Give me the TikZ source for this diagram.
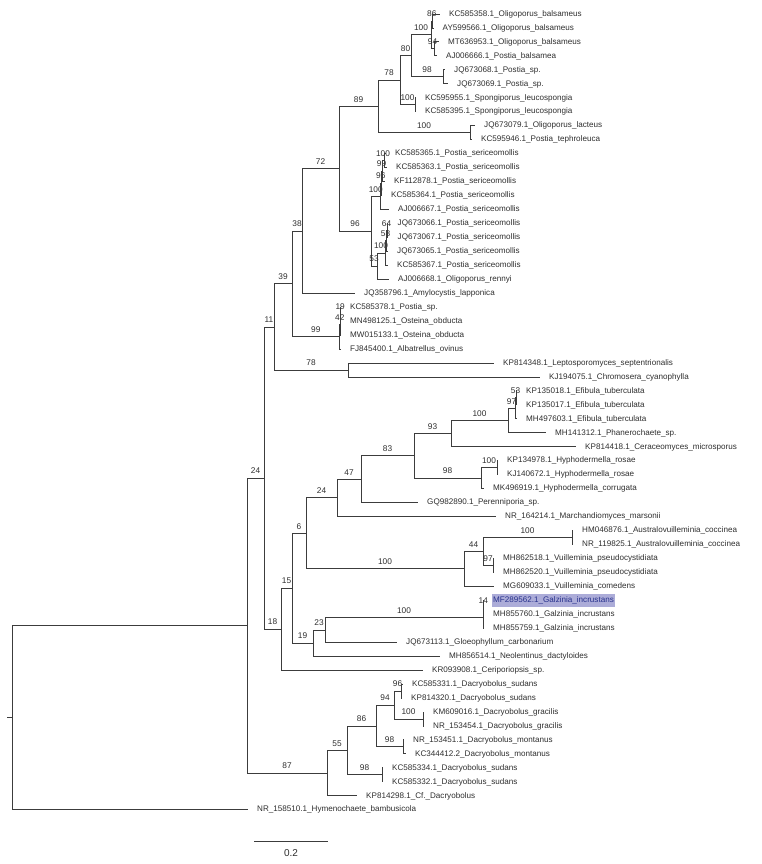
\documentclass[tikz,border=0pt]{standalone}
\usepackage{fontspec}
\setmainfont{Liberation Sans}
\usetikzlibrary{calc}
\definecolor{lc}{HTML}{3C3C3C}
\definecolor{tc}{HTML}{2E2E2E}
\definecolor{hlc}{RGB}{172,172,216}
\definecolor{hltc}{RGB}{40,50,140}
\tikzset{
  br/.style={draw=lc, line width=0.9pt},
  bs/.style={font=\fontsize{8.3}{9}\selectfont, text=tc, anchor=south, inner sep=0pt, yshift=3.8pt},
  tl/.style={font=\fontsize{8.1}{9}\selectfont, text=tc, anchor=west, inner xsep=0pt, inner ysep=0pt, xshift=9.5pt, text height=6pt, text depth=1.5pt},
  hl/.style={fill=hlc, text=hltc, inner xsep=1.5pt, inner ysep=2.5pt, xshift=-1.5pt},
  sbl/.style={font=\fontsize{10}{12}\selectfont, text=tc}
}
\newcommand\tip[3]{\coordinate (t#1) at (#2,{ty(#1)}); \node[tl] (l#1) at (t#1) {#3};}
\newcommand\inode[4]{\path (#3) -- (#4) coordinate[midway] (#1m); \coordinate (#1) at (#2,0 |- #1m);}
\newcommand\BR[3]{\draw[br] (#1) |- node[bs,pos=0.75]{#3} (#2);}
\newcommand\BT[2]{\draw[br] (#1) |- (#2);}
\begin{document}
\begin{tikzpicture}[x=1pt,y=-1pt, declare function={ty(\i)=14+13.96*(\i-1);}]
\useasboundingbox (0,0) rectangle (762,864);
% tips
\tip{1}{439.5}{KC585358.1\_Oligoporus\_balsameus}
\tip{2}{433}{AY599566.1\_Oligoporus\_balsameus}
\tip{3}{438.5}{MT636953.1\_Oligoporus\_balsameus}
\tip{4}{436.5}{AJ006666.1\_Postia\_balsamea}
\tip{5}{444.5}{JQ673068.1\_Postia\_sp.}
\tip{6}{447.5}{JQ673069.1\_Postia\_sp.}
\tip{7}{415.5}{KC595955.1\_Spongiporus\_leucospongia}
\tip{8}{415.5}{KC585395.1\_Spongiporus\_leucospongia}
\tip{9}{474.5}{JQ673079.1\_Oligoporus\_lacteus}
\tip{10}{471.5}{KC595946.1\_Postia\_tephroleuca}
\tip{11}{385.5}{KC585365.1\_Postia\_sericeomollis}
\tip{12}{386.5}{KC585363.1\_Postia\_sericeomollis}
\tip{13}{384.5}{KF112878.1\_Postia\_sericeomollis}
\tip{14}{381.5}{KC585364.1\_Postia\_sericeomollis}
\tip{15}{388.5}{AJ006667.1\_Postia\_sericeomollis}
\tip{16}{388}{JQ673066.1\_Postia\_sericeomollis}
\tip{17}{388}{JQ673067.1\_Postia\_sericeomollis}
\tip{18}{387.5}{JQ673065.1\_Postia\_sericeomollis}
\tip{19}{387.5}{KC585367.1\_Postia\_sericeomollis}
\tip{20}{388.5}{AJ006668.1\_Oligoporus\_rennyi}
\tip{21}{354.5}{JQ358796.1\_Amylocystis\_lapponica}
\tip{22}{340.5}{KC585378.1\_Postia\_sp.}
\tip{23}{340.5}{MN498125.1\_Osteina\_obducta}
\tip{24}{340.5}{MW015133.1\_Osteina\_obducta}
\tip{25}{340.5}{FJ845400.1\_Albatrellus\_ovinus}
\tip{26}{493.5}{KP814348.1\_Leptosporomyces\_septentrionalis}
\tip{27}{539.5}{KJ194075.1\_Chromosera\_cyanophylla}
\tip{28}{516.5}{KP135018.1\_Efibula\_tuberculata}
\tip{29}{516.5}{KP135017.1\_Efibula\_tuberculata}
\tip{30}{516.5}{MH497603.1\_Efibula\_tuberculata}
\tip{31}{545.5}{MH141312.1\_Phanerochaete\_sp.}
\tip{32}{575.5}{KP814418.1\_Ceraceomyces\_microsporus}
\tip{33}{497.5}{KP134978.1\_Hyphodermella\_rosae}
\tip{34}{497.5}{KJ140672.1\_Hyphodermella\_rosae}
\tip{35}{483.5}{MK496919.1\_Hyphodermella\_corrugata}
\tip{36}{417.5}{GQ982890.1\_Perenniporia\_sp.}
\tip{37}{495.5}{NR\_164214.1\_Marchandiomyces\_marsonii}
\tip{38}{572.5}{HM046876.1\_Australovuilleminia\_coccinea}
\tip{39}{572.5}{NR\_119825.1\_Australovuilleminia\_coccinea}
\tip{40}{493.5}{MH862518.1\_Vuilleminia\_pseudocystidiata}
\tip{41}{493.5}{MH862520.1\_Vuilleminia\_pseudocystidiata}
\tip{42}{493.5}{MG609033.1\_Vuilleminia\_comedens}
\coordinate (t43) at (483.5,{ty(43)});
\node[tl,hl] (l43) at (t43) {MF289562.1\_Galzinia\_incrustans};
\tip{44}{483.5}{MH855760.1\_Galzinia\_incrustans}
\tip{45}{483.5}{MH855759.1\_Galzinia\_incrustans}
\tip{46}{396.5}{JQ673113.1\_Gloeophyllum\_carbonarium}
\tip{47}{439.5}{MH856514.1\_Neolentinus\_dactyloides}
\tip{48}{422.5}{KR093908.1\_Ceriporiopsis\_sp.}
\tip{49}{402.5}{KC585331.1\_Dacryobolus\_sudans}
\tip{50}{401.5}{KP814320.1\_Dacryobolus\_sudans}
\tip{51}{423.5}{KM609016.1\_Dacryobolus\_gracilis}
\tip{52}{423.5}{NR\_153454.1\_Dacryobolus\_gracilis}
\tip{53}{403.5}{NR\_153451.1\_Dacryobolus\_montanus}
\tip{54}{405.5}{KC344412.2\_Dacryobolus\_montanus}
\tip{55}{382.5}{KC585334.1\_Dacryobolus\_sudans}
\tip{56}{382.5}{KC585332.1\_Dacryobolus\_sudans}
\tip{57}{356.5}{KP814298.1\_Cf.\_Dacryobolus}
\tip{58}{247.5}{NR\_158510.1\_Hymenochaete\_bambusicola}
% internal nodes
\inode{aA}{432.5}{t1}{t2}
\inode{aB}{434}{t3}{t4}
\inode{aC}{431}{aA}{aB}
\inode{aD}{443}{t5}{t6}
\inode{aE}{411}{aC}{aD}
\inode{aF}{415}{t7}{t8}
\inode{aG}{400}{aE}{aF}
\inode{aH}{470}{t9}{t10}
\inode{aI}{378}{aG}{aH}
\inode{bA}{384}{t11}{t12}
\inode{bB}{382}{bA}{t13}
\inode{bC}{381}{bB}{t14}
\inode{bD}{380.5}{bC}{t15}
\inode{bE}{387}{t16}{t17}
\inode{bF}{386}{bE}{t18}
\inode{bG}{385}{bF}{t19}
\inode{bH}{377}{bG}{t20}
\inode{bI}{371}{bD}{bH}
\inode{cA}{339}{aI}{bI}
\inode{cB}{302}{cA}{t21}
\inode{cC}{340.3}{t22}{t23}
\inode{cD}{340}{cC}{t24}
\inode{cE}{339.5}{cD}{t25}
\inode{cF}{292}{cB}{cE}
\inode{cG}{348}{t26}{t27}
\inode{cH}{274}{cF}{cG}
\inode{dA}{516}{t28}{t29}
\inode{dB}{515}{dA}{t30}
\inode{dC}{508}{dB}{t31}
\inode{dD}{451}{dC}{t32}
\inode{dE}{497}{t33}{t34}
\inode{dF}{481}{dE}{t35}
\inode{dG}{414}{dD}{dF}
\inode{dH}{361}{dG}{t36}
\inode{dI}{337}{dH}{t37}
\inode{eA}{572}{t38}{t39}
\inode{eB}{493}{t40}{t41}
\inode{eC}{483}{eA}{eB}
\inode{eD}{464}{eC}{t42}
\inode{eE}{306}{dI}{eD}
\inode{fA}{483.5}{t43}{t44}
\inode{fB}{483}{fA}{t45}
\inode{fC}{325}{fB}{t46}
\inode{fD}{313}{fC}{t47}
\inode{fE}{292}{eE}{fD}
\inode{fF}{281}{fE}{t48}
\inode{fG}{264}{cH}{fF}
\inode{gA}{401}{t49}{t50}
\inode{gB}{423}{t51}{t52}
\inode{gC}{394}{gA}{gB}
\inode{gD}{403}{t53}{t54}
\inode{gE}{376}{gC}{gD}
\inode{gF}{382}{t55}{t56}
\inode{gG}{347}{gE}{gF}
\inode{gH}{327}{gG}{t57}
\inode{hA}{247}{fG}{gH}
\inode{root}{12}{hA}{t58}
\coordinate (stub) at (7,0 |- root);
% labelled branches
\BR{aC}{aA}{86} \BR{aC}{aB}{94} \BR{aE}{aC}{100} \BR{aE}{aD}{98}
\BR{aG}{aE}{80} \BR{aG}{aF}{100} \BR{aI}{aG}{78} \BR{aI}{aH}{100}
\BR{cA}{aI}{89} \BR{cA}{bI}{96}
\BR{bI}{bD}{100} \BR{bD}{bC}{96} \BR{bC}{bB}{99} \BR{bB}{bA}{100}
\BR{bI}{bH}{53} \BR{bH}{bG}{100} \BR{bG}{bF}{58} \BR{bF}{bE}{64}
\BR{cB}{cA}{72} \BR{cF}{cB}{38} \BR{cF}{cE}{99} \BR{cE}{cD}{42} \BR{cD}{cC}{19}
\BR{cH}{cF}{39} \BR{cH}{cG}{78} \BR{fG}{cH}{11} \BR{fG}{fF}{18}
\BR{fF}{fE}{15} \BR{fE}{eE}{6} \BR{fE}{fD}{19}
\BR{eE}{dI}{24} \BR{eE}{eD}{100} \BR{dI}{dH}{47} \BR{dH}{dG}{83}
\BR{dG}{dD}{93} \BR{dG}{dF}{98} \BR{dD}{dC}{100} \BR{dC}{dB}{97} \BR{dB}{dA}{53}
\BR{dF}{dE}{100}
\BR{eD}{eC}{44} \BR{eC}{eA}{100} \BR{eC}{eB}{97}
\BR{fD}{fC}{23} \BR{fC}{fB}{100} \BR{fB}{fA}{14}
\BR{hA}{fG}{24} \BR{hA}{gH}{87} \BR{gH}{gG}{55} \BR{gG}{gE}{86} \BR{gG}{gF}{98}
\BR{gE}{gC}{94} \BR{gE}{gD}{98} \BR{gC}{gA}{96} \BR{gC}{gB}{100}
\BT{root}{hA}
\draw[br] (stub) -- (root);
% tip branches
\BT{aA}{t1} \BT{aA}{t2} \BT{aB}{t3} \BT{aB}{t4} \BT{aD}{t5} \BT{aD}{t6}
\BT{aF}{t7} \BT{aF}{t8} \BT{aH}{t9} \BT{aH}{t10}
\BT{bA}{t11} \BT{bA}{t12} \BT{bB}{t13} \BT{bC}{t14} \BT{bD}{t15}
\BT{bE}{t16} \BT{bE}{t17} \BT{bF}{t18} \BT{bG}{t19} \BT{bH}{t20}
\BT{cB}{t21} \BT{cC}{t22} \BT{cC}{t23} \BT{cD}{t24} \BT{cE}{t25}
\BT{cG}{t26} \BT{cG}{t27}
\BT{dA}{t28} \BT{dA}{t29} \BT{dB}{t30} \BT{dC}{t31} \BT{dD}{t32}
\BT{dE}{t33} \BT{dE}{t34} \BT{dF}{t35} \BT{dH}{t36} \BT{dI}{t37}
\BT{eA}{t38} \BT{eA}{t39} \BT{eB}{t40} \BT{eB}{t41} \BT{eD}{t42}
\BT{fA}{t43} \BT{fA}{t44} \BT{fB}{t45} \BT{fC}{t46} \BT{fD}{t47} \BT{fF}{t48}
\BT{gA}{t49} \BT{gA}{t50} \BT{gB}{t51} \BT{gB}{t52} \BT{gD}{t53} \BT{gD}{t54}
\BT{gF}{t55} \BT{gF}{t56} \BT{gH}{t57} \BT{root}{t58}
% scale bar
\coordinate (sbA) at (254,841);
\coordinate (sbB) at (328,841);
\draw[br] (sbA) -- (sbB);
\node[sbl] (sbT) at (291,853) {0.2};
\end{tikzpicture}
\end{document}
